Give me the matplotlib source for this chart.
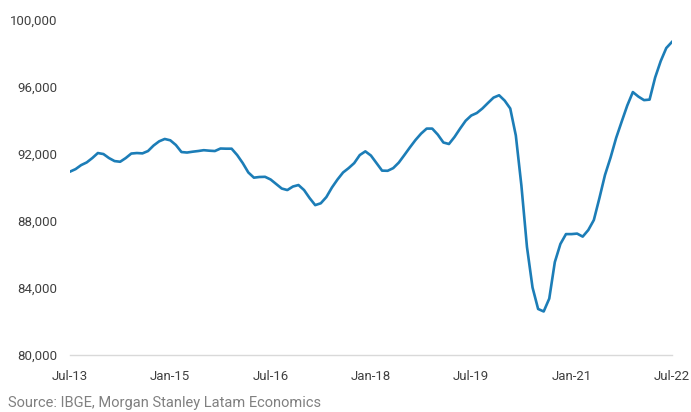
import matplotlib.pyplot as plt
import matplotlib.ticker as mticker

# Monthly series, Jul-13 through Jul-22
values = [
    90950, 91100, 91340, 91500, 91760, 92060, 92000, 91760, 91580, 91540,
    91760, 92030, 92060, 92040, 92180, 92510, 92760, 92900, 92820, 92540,
    92120, 92090, 92140, 92180, 92230, 92200, 92180, 92330, 92320, 92320,
    91940, 91460, 90900, 90590, 90630, 90640, 90480, 90210, 89940, 89850,
    90060, 90150, 89850, 89370, 88950, 89060, 89430, 90000, 90480, 90900,
    91160, 91460, 91940, 92160, 91910, 91460, 91010, 91000, 91160, 91490,
    91940, 92400, 92840, 93220, 93520, 93520, 93160, 92690, 92600, 93020,
    93520, 93990, 94300, 94450, 94720, 95050, 95370, 95510, 95190, 94720,
    93110, 90120, 86450, 84030, 82750, 82600, 83370, 85550, 86630, 87220,
    87220, 87250, 87070, 87460, 88060, 89370, 90750, 91790, 92960, 93940,
    94900, 95700, 95430, 95220, 95250, 96570, 97550, 98330, 98690,
]
tick_pos = [0, 18, 36, 54, 72, 90, 108]
tick_labels = ["Jul-13", "Jan-15", "Jul-16", "Jan-18", "Jul-19", "Jan-21", "Jul-22"]
y_ticks = [80000, 84000, 88000, 92000, 96000, 100000]

plt.rcParams["font.family"] = ["Roboto", "DejaVu Sans"]

fig = plt.figure(figsize=(6.91, 4.12), dpi=100)
ax = fig.add_axes([0.1013, 0.1383, 0.871, 0.813])

ax.plot(range(len(values)), values, color="#1c7db7", linewidth=1.9,
        solid_joinstyle="round")

ax.set_xlim(0, 108)
ax.set_ylim(80000, 100000)
ax.set_xticks(tick_pos)
ax.set_xticklabels(tick_labels)
ax.set_yticks(y_ticks)
ax.yaxis.set_major_formatter(mticker.FuncFormatter(lambda v, p: f"{int(v):,}"))

for side in ["top", "right", "left"]:
    ax.spines[side].set_visible(False)
ax.spines["bottom"].set_color("#d9d9d9")
ax.spines["bottom"].set_linewidth(1.0)
ax.tick_params(axis="both", length=0, labelsize=9.5, colors="#404040")
ax.tick_params(axis="x", pad=11)
ax.tick_params(axis="y", pad=9)

fig.text(0.012, 0.012, "Source: IBGE, Morgan Stanley Latam Economics",
         fontsize=10.5, color="#808080", ha="left", va="baseline")

fig.savefig("out.png", dpi=100)
